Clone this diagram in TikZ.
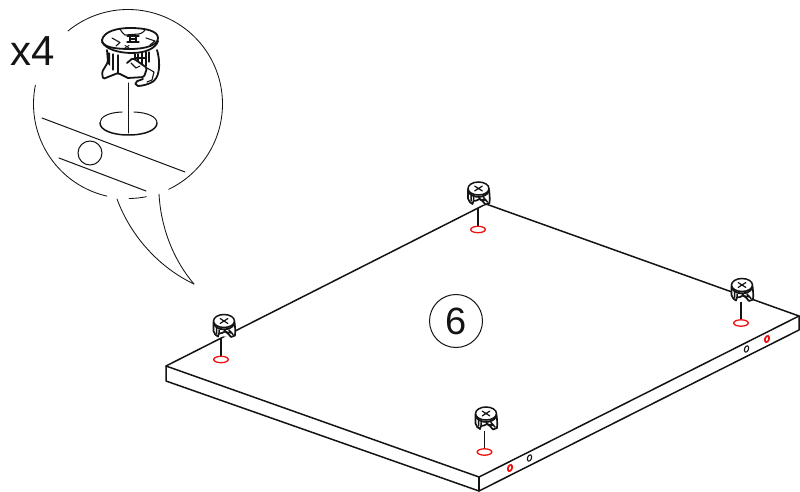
\documentclass[tikz,border=0pt]{standalone}
\usepackage{fontspec}
\setmainfont{Liberation Sans}
\definecolor{ink}{HTML}{141414}
\definecolor{holered}{HTML}{F01010}
\tikzset{
  x=1pt,y=-1pt,
  panel/.style={draw=ink,line width=1.5pt,line join=round,line cap=round},
  bubble/.style={draw=ink,line width=0.85pt,line cap=round},
  detail/.style={draw=ink,line width=1.1pt,line join=round,line cap=round},
  heavy/.style={draw=ink,line width=1.8pt,line join=round,line cap=round},
  pin/.style={draw=ink,line width=1.3pt},
  redhole/.style={draw=holered,line width=1.3pt,fill=white},
  sidehole/.style={line width=1.1pt,fill=white},
  smallcam/.pic={
    \fill[white] (-10.5,1) -- (-10.5,11) -- (-8,15) -- (9,16) -- (11.5,12) -- (10.5,1) -- cycle;
    \draw[heavy,line width=1.7pt] (-10.5,1) -- (-10.5,10) .. controls (-10,13) and (-8,14.5) .. (-6,15.5) -- (-5,12.5) -- (-2,12) -- (1,10.5) -- (4,12.5) -- (7,16) -- (11,14.5) .. controls (11.5,10) and (11,5) .. (10.5,1);
    \draw[detail,line width=1.8pt] (-10,3.5) .. controls (-6,10) and (6,10) .. (10,3.5);
    \draw[detail,line width=1.5pt] (-7.5,7) -- (-7.5,12.5) (-5,9) -- (-5,12.5) (0,8.5) -- (2,11) -- (8,12) (5,9) -- (9,13.5);
    \fill[white,draw=ink,line width=1.5pt] (0,0) ellipse [x radius=10.5, y radius=6.5];
    \draw[detail,line width=1.2pt] (-3.8,-2.4) -- (3.8,2.4) (-3.8,2.4) -- (3.8,-2.4);
  }
}
\begin{document}
\begin{tikzpicture}
\useasboundingbox (0,0) rectangle (800,492);
% panel
\coordinate (pl) at (166,366);
\coordinate (pb) at (486,204);
\coordinate (pr) at (799,316);
\coordinate (pf) at (479,477);
\coordinate (pl2) at (166,381);
\coordinate (pf2) at (479,491);
\coordinate (pr2) at (799,330);
\draw[panel] (pl) -- (pb) -- (pr) -- (pf) -- cycle;
\draw[panel] (pl) -- (pl2) -- (pf2) -- (pr2) -- (pr);
\draw[panel] (pf) -- (pf2);
% side holes
\draw[redhole,line width=1.7pt,rotate around={-20:(510,468)}] (510,468) ellipse [x radius=2, y radius=3.3];
\draw[draw=ink,sidehole,rotate around={-20:(529.5,458)}] (529.5,458) ellipse [x radius=2, y radius=3.3];
\draw[draw=ink,sidehole,rotate around={-20:(746.5,349)}] (746.5,349) ellipse [x radius=2, y radius=3.3];
\draw[redhole,line width=1.7pt,rotate around={-20:(767,339)}] (767,339) ellipse [x radius=2, y radius=3.3];
% pins, holes, cams
\foreach \cx/\cy/\lx/\ly in {478.5/188.5/478/229.5, 224/321/221/359.5, 486/413.5/484.5/452, 742/285/741/323}{
  \draw[pin] (\lx,\ly-21.5) -- (\lx,\ly-4);
  \draw[redhole] (\lx,\ly) ellipse [x radius=7.3, y radius=3.2];
  \pic at (\cx,\cy) {smallcam};
}
% number
\node[circle,draw=ink,line width=1pt,minimum size=53pt,inner sep=0pt,text=ink,font=\fontsize{38}{38}\selectfont] (num) at (456,321) {6};
% x4
\node[inner sep=0pt,text=ink,font=\fontsize{42}{42}\selectfont,anchor=base west] (cnt) at (10.5,65.5) {x4};
% bubble
\draw[bubble,domain=230.6:424.5,samples=120] plot ({128+94.5*cos(\x)},{104+94.5*sin(\x)});
\draw[bubble,domain=78.8:89.4,samples=12] plot ({128+94.5*cos(\x)},{104+94.5*sin(\x)});
\draw[bubble,domain=102.9:191.4,samples=50] plot ({128+94.5*cos(\x)},{104+94.5*sin(\x)});
\draw[bubble] (117,199) .. controls (131,237) and (160,268) .. (194,284);
\draw[bubble] (159,194) .. controls (161,230) and (175,262) .. (194,284);
% detail lines
\draw[bubble,line width=1pt] (42,118) -- (185,172);
\draw[bubble,line width=1pt] (59,158) -- (146,191);
\draw[bubble,line width=1pt] (90,153) circle [radius=12];
% big hole and pin
\draw[bubble,line width=1pt] (128,83) -- (128,133);
\draw[bubble,line width=1pt] (122,112) .. controls (108,112.5) and (100,117) .. (100,123);
\draw[bubble,line width=1pt] (134,112) .. controls (148,112.5) and (157,117) .. (157,123);
\draw[heavy,line width=1.5pt] (100,123) .. controls (100,130) and (112,135) .. (128.5,135) .. controls (145,135) and (157,130) .. (157,123);
% big cam: body outline
\draw[heavy,rounded corners=1.5pt] (107,50) -- (108,62) -- (102,72) -- (103,79) -- (118,73) -- (128,78);
\draw[heavy,rounded corners=2pt] (157,50) .. controls (160,60) and (160,72) .. (155,80) .. controls (150,84) and (142,86) .. (136,86) -- (135,82) -- (143,79);
\fill[ink] (107,52) -- (110,53) -- (110,66) -- (108,64) -- cycle;
\draw[detail] (113,54) -- (113,70) (118,55) -- (118,73);
\draw[heavy,rounded corners=1.5pt] (127,63) -- (133,58) -- (147,68) -- (144,77) -- (128,78);
\draw[detail] (131,63) -- (136,68) -- (140,66);
\draw[detail] (147,68) -- (154,72) -- (152,80) -- (147,82);
\draw[detail] (135,54) -- (135,60) (138,54) -- (138,61) (142,53) -- (142,64) (146,52) -- (146,66) (135,58) -- (146,58) (149,52) -- (149,62);
% big cam: cap
\fill[white] (102,40) .. controls (104,31) and (118,28) .. (130,28) .. controls (146,28) and (158,31) .. (158,38) .. controls (158,47) and (146,50) .. (130,50) .. controls (114,50) and (102,47) .. (102,40) -- cycle;
\draw[heavy] (102,42) .. controls (106,49) and (118,53) .. (132,53) .. controls (146,53) and (156,48) .. (158,41);
\draw[heavy] (102,40) .. controls (104,31) and (118,28) .. (130,28) .. controls (146,28) and (158,31) .. (158,38) .. controls (158,45) and (146,49) .. (130,49) .. controls (114,49) and (102,47) .. (102,40) -- cycle;
\draw[detail] (120,29) .. controls (122,32) and (123,34) .. (125,35) -- (139,34) .. controls (143,33) and (144,31) .. (145,30);
\draw[detail] (112,38) -- (120,42.5) -- (116,46);
\draw[detail] (127,36) -- (139,36) (127,42) -- (139,42) (130,36) -- (130,42) (136,36) -- (136,42) (130,39) -- (136,39);
\draw[detail] (146,38) -- (155,41) -- (150,45);
\draw[detail,line width=0.9pt] (125,45.5) -- (129,48) (129,45.5) -- (125,48);
\end{tikzpicture}
\end{document}
